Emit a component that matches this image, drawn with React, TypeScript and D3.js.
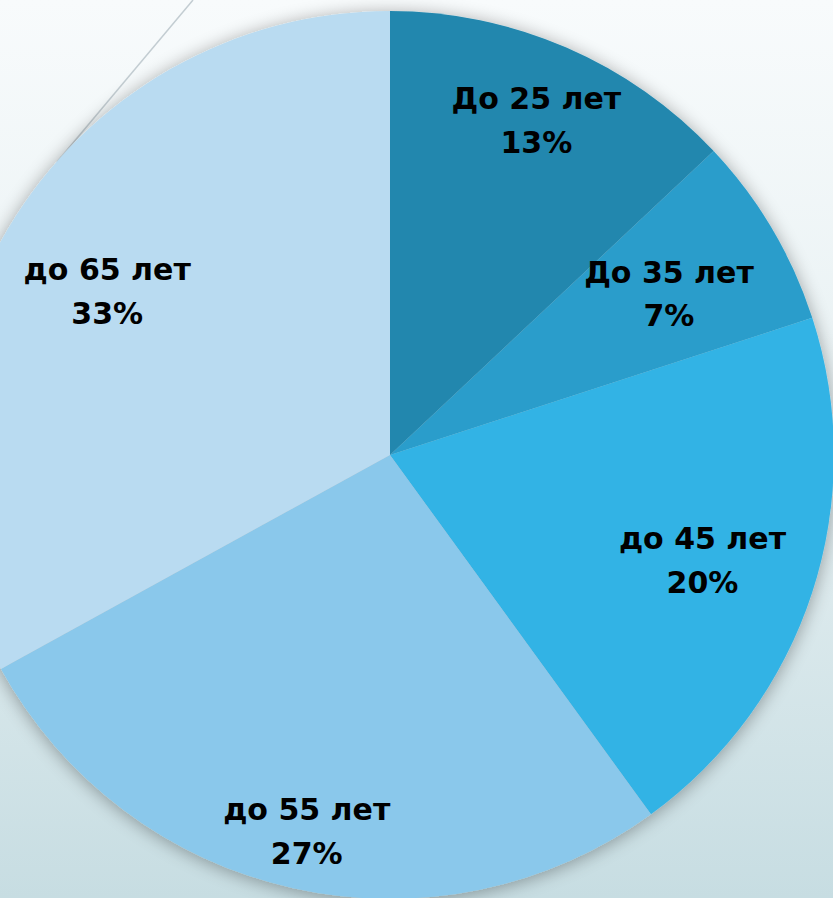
import React from "react";
import * as d3 from "d3";

// age groups and their shares, %
const categories = ["До 25 лет", "До 35 лет", "до 45 лет", "до 55 лет", "до 65 лет"];
const shares = [13, 7, 20, 27, 33];
const colors = ["#2287ae", "#2a9dcb", "#33b3e5", "#8ac8eb", "#b9dbf1"];
// where each label sits along the slice radius (fraction of radius)
const labelRadius = [0.83, 0.73, 0.74, 0.86, 0.74];

const W = 833;
const H = 898;

export default function App() {
  const cx = 390;
  const cy = 455;
  const r = 444;

  const pie = d3
    .pie<number>()
    .value((d) => d)
    .sort(null);
  const arcs = pie(shares);
  const arc = d3.arc<d3.PieArcDatum<number>>().innerRadius(0).outerRadius(r);

  return (
    <svg
      width={W}
      height={H}
      style={{ position: "fixed", left: 0, top: 0, display: "block" }}
    >
      <defs>
        <linearGradient id="bg" x1="0" y1="0" x2="0" y2="1">
          <stop offset="0" stopColor="#f8fbfc" />
          <stop offset="0.45" stopColor="#e8f1f3" />
          <stop offset="1" stopColor="#c7dde2" />
        </linearGradient>
        <filter id="shadow" x="-20%" y="-20%" width="140%" height="140%">
          <feGaussianBlur in="SourceAlpha" stdDeviation="9" />
          <feOffset dx="0" dy="2" result="b" />
          <feComponentTransfer>
            <feFuncA type="linear" slope="0.35" />
          </feComponentTransfer>
          <feMerge>
            <feMergeNode />
            <feMergeNode in="SourceGraphic" />
          </feMerge>
        </filter>
      </defs>
      <rect width={W} height={H} fill="url(#bg)" />
      <line x1={193} y1={0} x2={57} y2={162} stroke="#c3cdd2" strokeWidth={1.5} />

      <g transform={`translate(${cx},${cy})`}>
        <g filter="url(#shadow)">
          {arcs.map((a, i) => (
            <path key={i} d={arc(a) || ""} fill={colors[i]} />
          ))}
        </g>
        {arcs.map((a, i) => {
          const mid = (a.startAngle + a.endAngle) / 2;
          const lr = r * labelRadius[i];
          const x = Math.sin(mid) * lr;
          const y = -Math.cos(mid) * lr;
          return (
            <text
              key={i}
              x={x}
              y={y}
              textAnchor="middle"
              fontFamily="'DejaVu Sans', sans-serif"
              fontWeight="bold"
              fontSize={30}
              fill="#000"
            >
              <tspan x={x} dy="-0.25em">
                {categories[i]}
              </tspan>
              <tspan x={x} dy="1.45em">
                {`${a.data}%`}
              </tspan>
            </text>
          );
        })}
      </g>
    </svg>
  );
}
